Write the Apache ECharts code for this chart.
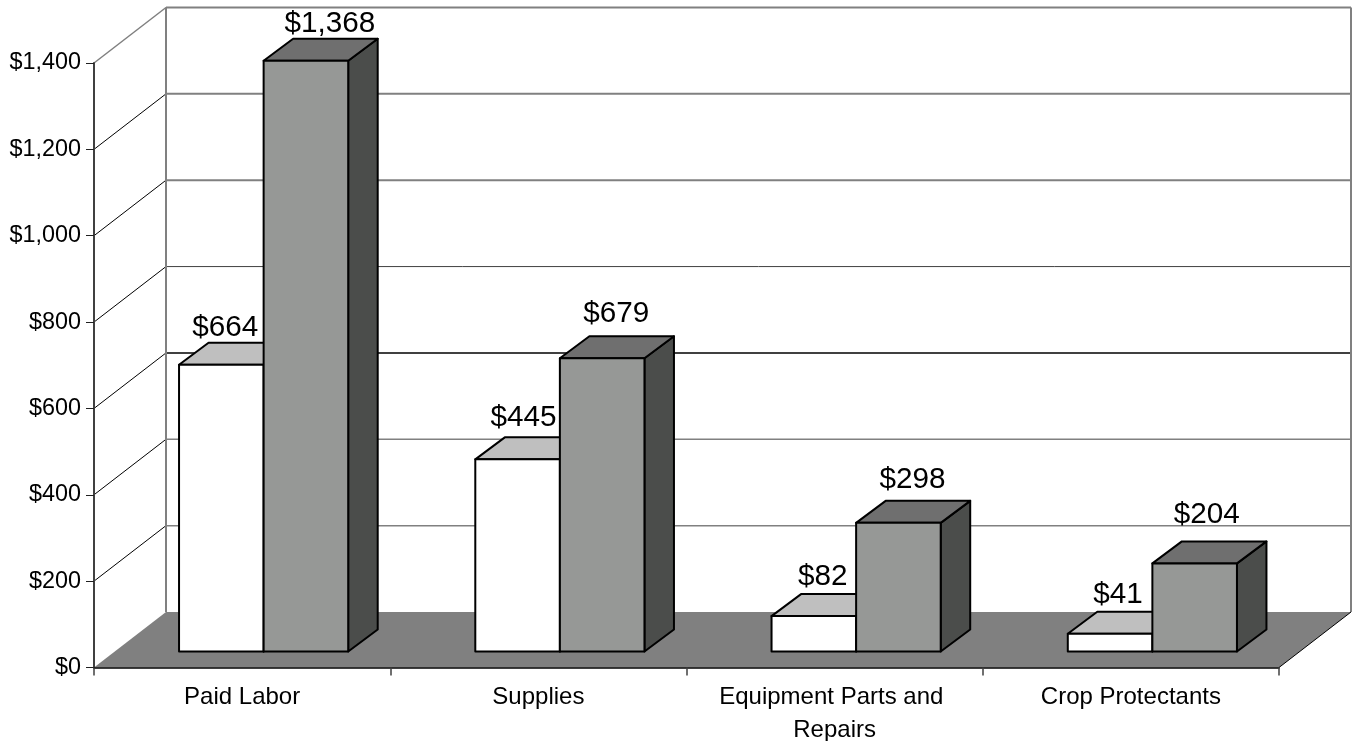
<!DOCTYPE html>
<html>
<head>
<meta charset="utf-8">
<style>html,body{margin:0;padding:0;background:#fff}#chart{width:1352px;height:741px}</style>
<script src="https://cdn.jsdelivr.net/npm/echarts@6/dist/echarts.min.js"></script>
</head>
<body>
<div id="chart"></div>
<script>
var categories = ['Paid Labor', 'Supplies', 'Equipment Parts and Repairs', 'Crop Protectants'];
var seriesA = [664, 445, 82, 41];
var seriesB = [1368, 679, 298, 204];
var axisTicks = [0, 200, 400, 600, 800, 1000, 1200, 1400];

// layout / style tables
var labelNudgeA = [[4, -37], [6, -42], [9, -39], [8, -39]];
var labelNudgeB = [[24, -37], [14, -45], [14, -43], [12, -49]];
var gridStyle = {
  0: null,
  200: ['#808080', 1.5], 400: ['#808080', 1.5], 600: ['#000000', 1.5],
  800: ['#404040', 1], 1000: ['#808080', 2], 1200: ['#808080', 2], 1400: ['#808080', 2]
};
var WALL_DX = 72, WALL_DY = -55.5;
var BAR_DX = 29.5, BAR_DY = -22, BAR_LIFT = -16;
var BAR_RATIO = 0.2855, GROUP_SHIFT = 21.5;

function fmt(v) {
  return '$' + String(v).replace(/\B(?=(\d{3})+$)/g, ',');
}

function wallItem(params, api) {
  var v = api.value(1);
  var cs = params.coordSys;
  var p = api.coord([0, v]);
  var left = cs.x, right = cs.x + cs.width, y = p[1];
  var children = [];
  var st = gridStyle[v];
  if (st) {
    children.push({
      type: 'line',
      shape: {x1: left + WALL_DX, y1: y + WALL_DY, x2: right + WALL_DX, y2: y + WALL_DY},
      style: {stroke: st[0], lineWidth: st[1]}
    });
    children.push({
      type: 'line',
      shape: {x1: left, y1: y, x2: left + WALL_DX, y2: y + WALL_DY},
      style: {stroke: v === 1400 ? '#808080' : '#000000', lineWidth: v === 1400 ? 1.5 : 1}
    });
  } else {
    var topY = api.coord([0, 1400])[1];
    children.push({
      type: 'line',
      shape: {x1: left + WALL_DX, y1: topY + WALL_DY, x2: left + WALL_DX, y2: y + WALL_DY},
      style: {stroke: '#808080', lineWidth: 2}
    });
    children.push({
      type: 'line',
      shape: {x1: right + WALL_DX, y1: topY + WALL_DY, x2: right + WALL_DX, y2: y + WALL_DY},
      style: {stroke: '#808080', lineWidth: 2}
    });
    children.push({
      type: 'polygon',
      shape: {points: [[left, y], [left + WALL_DX, y + WALL_DY], [right + WALL_DX, y + WALL_DY], [right, y]]},
      style: {fill: '#808080', stroke: 'none'}
    });
    children.push({
      type: 'line',
      shape: {x1: right, y1: y, x2: right + WALL_DX, y2: y + WALL_DY},
      style: {stroke: '#000000', lineWidth: 1}
    });
  }
  return {type: 'group', children: children};
}

function barRenderer(slot, colors, nudges) {
  return function (params, api) {
    var idx = api.value(0), val = api.value(1);
    var catW = api.size([1, 0])[0];
    var w = catW * BAR_RATIO;
    var c0 = api.coord([idx, 0]);
    var c1 = api.coord([idx, val]);
    var x0 = c0[0] + GROUP_SHIFT - w + slot * w, x1 = x0 + w;
    var yb = c0[1] + BAR_LIFT, yt = c1[1] + BAR_LIFT;
    var n = nudges[params.dataIndex];
    function style(fill) {
      return {fill: fill, stroke: '#000000', lineWidth: 2, lineJoin: 'round'};
    }
    return {
      type: 'group',
      children: [
        {type: 'polygon', shape: {points: [[x1, yb], [x1 + BAR_DX, yb + BAR_DY], [x1 + BAR_DX, yt + BAR_DY], [x1, yt]]}, style: style(colors.side)},
        {type: 'polygon', shape: {points: [[x0, yt], [x0 + BAR_DX, yt + BAR_DY], [x1 + BAR_DX, yt + BAR_DY], [x1, yt]]}, style: style(colors.top)},
        {type: 'polygon', shape: {points: [[x0, yb], [x0, yt], [x1, yt], [x1, yb]]}, style: style(colors.front)},
        {type: 'text', style: {
          text: fmt(val), x: (x0 + x1) / 2 + n[0], y: yt + n[1],
          align: 'center', verticalAlign: 'middle',
          font: '29.7px "Liberation Sans", Arial, sans-serif', fill: '#000000'
        }, z2: 50}
      ]
    };
  };
}

function toData(arr) {
  return arr.map(function (v, i) { return [i, v]; });
}

var chart = echarts.init(document.getElementById('chart'), null, {renderer: 'canvas'});
chart.setOption({
  animation: false,
  backgroundColor: '#ffffff',
  textStyle: {fontFamily: '"Liberation Sans", Arial, sans-serif'},
  grid: {left: 94, top: 63, width: 1185, height: 604.5, containLabel: false, outerBoundsMode: 'none'},
  xAxis: {
    type: 'category',
    data: categories,
    boundaryGap: true,
    z: 10,
    axisLine: {show: true, lineStyle: {color: '#000000', width: 1.5}},
    axisTick: {show: true, length: 8, alignWithLabel: false, lineStyle: {color: '#404040', width: 1.5}},
    axisLabel: {
      interval: 0, color: '#000000', fontSize: 24, margin: 14, lineHeight: 32.5,
      width: 280, overflow: 'break',
      fontFamily: '"Liberation Sans", Arial, sans-serif'
    },
    splitLine: {show: false}
  },
  yAxis: {
    type: 'value',
    min: 0, max: 1400, interval: 200,
    z: 10,
    axisLine: {show: true, lineStyle: {color: '#404040', width: 2}},
    axisTick: {show: true, length: 8, lineStyle: {color: '#202020', width: 1}},
    axisLabel: {
      color: '#000000', fontSize: 23.4, margin: 13, padding: [2, 0, 0, 0],
      fontFamily: '"Liberation Sans", Arial, sans-serif',
      formatter: function (v) { return fmt(v); }
    },
    splitLine: {show: false}
  },
  series: [
    {
      type: 'custom', name: 'wall', coordinateSystem: 'cartesian2d', clip: false, silent: true, z: 1,
      data: axisTicks.map(function (v) { return [0, v]; }).reverse(),
      encode: {x: 0, y: 1},
      renderItem: wallItem
    },
    {
      type: 'custom', name: 'Series A', coordinateSystem: 'cartesian2d', clip: false, z: 3,
      data: toData(seriesA),
      encode: {x: 0, y: 1},
      renderItem: barRenderer(0, {front: '#ffffff', top: '#bfbfbf', side: '#808080'}, labelNudgeA)
    },
    {
      type: 'custom', name: 'Series B', coordinateSystem: 'cartesian2d', clip: false, z: 4,
      data: toData(seriesB),
      encode: {x: 0, y: 1},
      renderItem: barRenderer(1, {front: '#969896', top: '#6f6f6f', side: '#4b4d4b'}, labelNudgeB)
    }
  ]
});
</script>
</body>
</html>
